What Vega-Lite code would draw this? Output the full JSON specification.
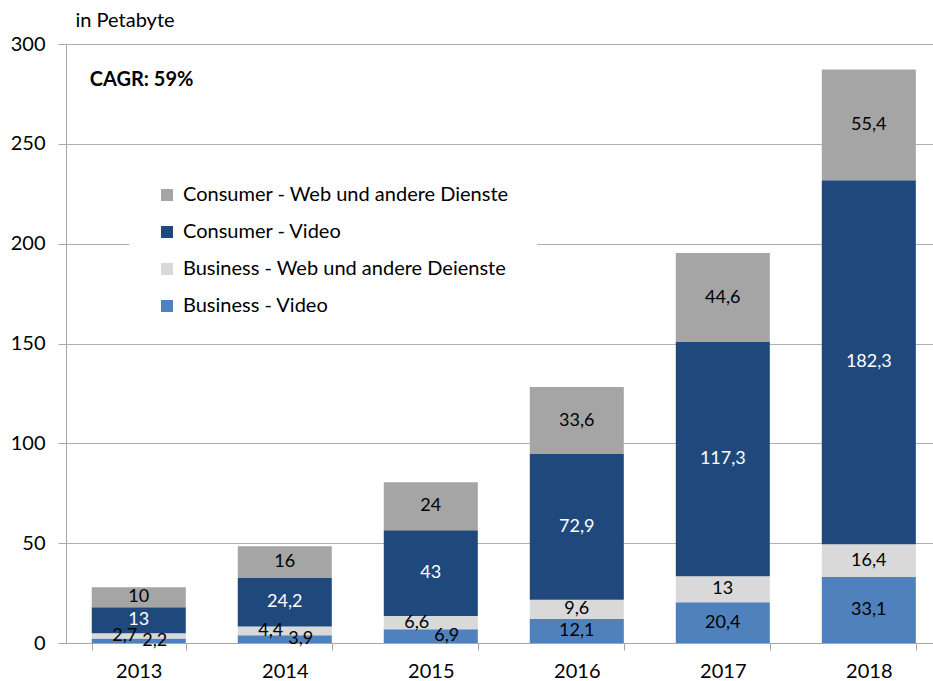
{
  "$schema": "https://vega.github.io/schema/vega-lite/v6.json",
  "width": 867,
  "height": 599,
  "autosize": {"type": "none"},
  "padding": {"left": 66, "top": 44, "right": 0, "bottom": 38},
  "config": {
    "view": {"stroke": null},
    "font": "Lato",
    "locale": {"number": {"decimal": ",", "thousands": ".", "grouping": [3], "currency": ["", " €"]}}
  },
  "data": {
    "values": [
      {"year": "2013", "series": "Business - Video", "o": 1, "value": 2.2},
      {"year": "2013", "series": "Business - Web und andere Deienste", "o": 2, "value": 2.7},
      {"year": "2013", "series": "Consumer - Video", "o": 3, "value": 13},
      {"year": "2013", "series": "Consumer - Web und andere Dienste", "o": 4, "value": 10},
      {"year": "2014", "series": "Business - Video", "o": 1, "value": 3.9},
      {"year": "2014", "series": "Business - Web und andere Deienste", "o": 2, "value": 4.4},
      {"year": "2014", "series": "Consumer - Video", "o": 3, "value": 24.2},
      {"year": "2014", "series": "Consumer - Web und andere Dienste", "o": 4, "value": 16},
      {"year": "2015", "series": "Business - Video", "o": 1, "value": 6.9},
      {"year": "2015", "series": "Business - Web und andere Deienste", "o": 2, "value": 6.6},
      {"year": "2015", "series": "Consumer - Video", "o": 3, "value": 43},
      {"year": "2015", "series": "Consumer - Web und andere Dienste", "o": 4, "value": 24},
      {"year": "2016", "series": "Business - Video", "o": 1, "value": 12.1},
      {"year": "2016", "series": "Business - Web und andere Deienste", "o": 2, "value": 9.6},
      {"year": "2016", "series": "Consumer - Video", "o": 3, "value": 72.9},
      {"year": "2016", "series": "Consumer - Web und andere Dienste", "o": 4, "value": 33.6},
      {"year": "2017", "series": "Business - Video", "o": 1, "value": 20.4},
      {"year": "2017", "series": "Business - Web und andere Deienste", "o": 2, "value": 13},
      {"year": "2017", "series": "Consumer - Video", "o": 3, "value": 117.3},
      {"year": "2017", "series": "Consumer - Web und andere Dienste", "o": 4, "value": 44.6},
      {"year": "2018", "series": "Business - Video", "o": 1, "value": 33.1},
      {"year": "2018", "series": "Business - Web und andere Deienste", "o": 2, "value": 16.4},
      {"year": "2018", "series": "Consumer - Video", "o": 3, "value": 182.3},
      {"year": "2018", "series": "Consumer - Web und andere Dienste", "o": 4, "value": 55.4}
    ]
  },
  "encoding": {
    "x": {
      "field": "year",
      "type": "nominal",
      "scale": {"paddingInner": 0.356, "paddingOuter": 0.147, "align": 0.6},
      "axis": {
        "title": null,
        "labelAngle": 0,
        "labelFontSize": 20,
        "labelColor": "#000000",
        "labelPadding": 11,
        "tickBand": "extent",
        "tickSize": 7,
        "tickColor": "#a6a6a6",
        "domainColor": "#a6a6a6",
        "grid": false
      }
    }
  },
  "layer": [
    {
      "mark": {"type": "bar"},
      "encoding": {
        "y": {
          "field": "value",
          "type": "quantitative",
          "stack": "zero",
          "scale": {"domain": [0, 300], "nice": false},
          "axis": {
            "values": [0, 50, 100, 150, 200, 250, 300],
            "title": "in Petabyte",
            "titleAngle": 0,
            "titleAlign": "left",
            "titleBaseline": "middle",
            "titleX": 9,
            "titleY": -24,
            "titleFontSize": 20,
            "titleFontWeight": "normal",
            "titleColor": "#000000",
            "labelFontSize": 20,
            "labelColor": "#000000",
            "labelPadding": 13,
            "tickSize": 8,
            "tickColor": "#a6a6a6",
            "domainColor": "#a6a6a6",
            "gridColor": "#b0b0b0",
            "grid": true
          }
        },
        "order": {"field": "o", "type": "quantitative"},
        "color": {
          "field": "series",
          "type": "nominal",
          "scale": {
            "domain": ["Consumer - Web und andere Dienste", "Consumer - Video", "Business - Web und andere Deienste", "Business - Video"],
            "range": ["#a5a5a5", "#1f497d", "#d9d9d9", "#4f81bd"]
          },
          "legend": {
            "title": null,
            "orient": "none",
            "legendX": 63,
            "legendY": 113,
            "fillColor": "#ffffff",
            "padding": 28,
            "symbolType": "square",
            "symbolSize": 144,
            "symbolStrokeWidth": 0,
            "labelFontSize": 20,
            "labelColor": "#000000",
            "labelOffset": 6,
            "rowPadding": 17,
            "labelLimit": 500
          }
        }
      }
    },
    {
      "mark": {"type": "text", "fontSize": 18, "baseline": "middle"},
      "encoding": {
        "y": {"field": "value", "type": "quantitative", "stack": "zero", "bandPosition": 0.5},
        "order": {"field": "o", "type": "quantitative"},
        "text": {"field": "value", "type": "quantitative", "format": "~g"},
        "opacity": {"condition": {"test": "(datum.year == '2013' || datum.year == '2014' || datum.year == '2015') && datum.o <= 2", "value": 0}, "value": 1},
        "color": {"condition": {"test": "datum.o == 3", "value": "#ffffff"}, "value": "#000000"}
      }
    },
    {
      "mark": {"type": "text", "fontSize": 18, "baseline": "middle", "dx": -14},
      "encoding": {
        "y": {"field": "value", "type": "quantitative", "stack": "zero", "bandPosition": 0.5},
        "order": {"field": "o", "type": "quantitative"},
        "text": {"field": "value", "type": "quantitative", "format": "~g"},
        "opacity": {"condition": {"test": "(datum.year == '2013' || datum.year == '2014' || datum.year == '2015') && datum.o == 2", "value": 1}, "value": 0},
        "color": {"value": "#000000"}
      }
    },
    {
      "mark": {"type": "text", "fontSize": 18, "baseline": "middle", "dx": 16},
      "encoding": {
        "y": {"field": "value", "type": "quantitative", "stack": "zero", "bandPosition": 0.5},
        "order": {"field": "o", "type": "quantitative"},
        "text": {"field": "value", "type": "quantitative", "format": "~g"},
        "opacity": {"condition": {"test": "(datum.year == '2013' || datum.year == '2014' || datum.year == '2015') && datum.o == 1", "value": 1}, "value": 0},
        "color": {"value": "#000000"}
      }
    },
    {
      "data": {"values": [{"label": "CAGR: 59%"}]},
      "mark": {"type": "text", "fontSize": 20, "fontWeight": "bold", "align": "left", "baseline": "middle", "dx": -2},
      "encoding": {
        "x": {"datum": "2013", "bandPosition": 0},
        "y": {"datum": 282},
        "text": {"field": "label"},
        "color": {"value": "#000000"}
      }
    }
  ]
}
